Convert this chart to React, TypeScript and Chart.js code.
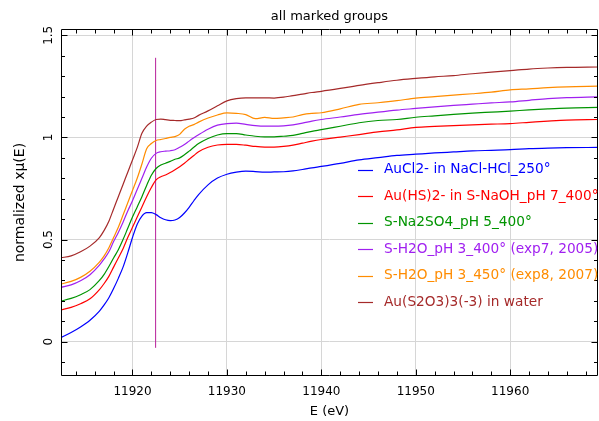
import { useEffect, useRef } from 'react';
import { Chart, registerables } from 'chart.js';

Chart.register(...registerables);

const FONT = 'DejaVu Sans';

const chartTitle = 'all marked groups';

const energy = [
  11912.4, 11913.5, 11914.5, 11915.5, 11916.5, 11917, 11917.5, 11918, 11918.5, 11919,
  11919.5, 11920, 11920.5, 11921, 11921.5, 11922, 11922.5, 11923, 11923.5, 11924,
  11924.5, 11925, 11925.5, 11926, 11926.5, 11927, 11928, 11929, 11930, 11931,
  11932, 11933, 11934, 11935, 11936, 11937, 11938, 11939, 11940, 11942,
  11944, 11946, 11948, 11950, 11952, 11954, 11956, 11958, 11960, 11962,
  11964, 11966, 11969.3,
];

const auCl2 = [
  0.020, 0.045, 0.072, 0.105, 0.150, 0.180, 0.215, 0.260, 0.310, 0.365,
  0.435, 0.510, 0.575, 0.615, 0.632, 0.632, 0.622, 0.607, 0.597, 0.593,
  0.596, 0.608, 0.630, 0.658, 0.690, 0.720, 0.768, 0.801, 0.820, 0.830,
  0.835, 0.833, 0.830, 0.831, 0.832, 0.836, 0.843, 0.851, 0.858, 0.873,
  0.890, 0.901, 0.912, 0.918, 0.924, 0.929, 0.934, 0.937, 0.940, 0.945,
  0.948, 0.950, 0.951,
];

const auHS2 = [
  0.155, 0.168, 0.186, 0.210, 0.255, 0.285, 0.320, 0.365, 0.410, 0.455,
  0.510, 0.560, 0.610, 0.660, 0.710, 0.755, 0.792, 0.808, 0.816, 0.828,
  0.842, 0.857, 0.874, 0.893, 0.912, 0.930, 0.952, 0.963, 0.966, 0.966,
  0.962, 0.956, 0.953, 0.953, 0.956, 0.962, 0.972, 0.982, 0.990, 1.002,
  1.014, 1.027, 1.037, 1.049, 1.054, 1.058, 1.062, 1.065, 1.068, 1.074,
  1.080, 1.085, 1.088,
];

const na2so4 = [
  0.199, 0.212, 0.230, 0.255, 0.300, 0.330, 0.368, 0.410, 0.450, 0.500,
  0.555, 0.610, 0.660, 0.710, 0.765, 0.815, 0.848, 0.865, 0.874, 0.883,
  0.893, 0.900, 0.915, 0.933, 0.952, 0.970, 0.995, 1.012, 1.019, 1.019,
  1.012, 1.006, 1.003, 1.003, 1.006, 1.010, 1.020, 1.030, 1.038, 1.055,
  1.072, 1.083, 1.088, 1.099, 1.106, 1.113, 1.119, 1.124, 1.129, 1.135,
  1.140, 1.144, 1.147,
];

const h2o400 = [
  0.266, 0.278, 0.298, 0.328, 0.375, 0.405, 0.440, 0.490, 0.535, 0.585,
  0.640, 0.690, 0.745, 0.800, 0.855, 0.898, 0.922, 0.930, 0.933, 0.935,
  0.940, 0.952, 0.965, 0.982, 0.998, 1.013, 1.040, 1.060, 1.068, 1.070,
  1.064, 1.058, 1.055, 1.055, 1.057, 1.062, 1.070, 1.080, 1.088, 1.100,
  1.113, 1.124, 1.134, 1.142, 1.150, 1.157, 1.163, 1.169, 1.174, 1.182,
  1.190, 1.195, 1.199,
];

const h2o450 = [
  0.282, 0.295, 0.315, 0.345, 0.390, 0.420, 0.460, 0.510, 0.560, 0.620,
  0.680, 0.740, 0.800, 0.870, 0.945, 0.970, 0.985, 0.990, 0.995, 1.000,
  1.004, 1.015, 1.040, 1.055, 1.063, 1.075, 1.095, 1.110, 1.120, 1.118,
  1.112, 1.092, 1.098, 1.093, 1.096, 1.100, 1.112, 1.118, 1.121, 1.140,
  1.162, 1.170, 1.180, 1.193, 1.200, 1.207, 1.214, 1.222, 1.233, 1.238,
  1.244, 1.248, 1.251,
];

const thiosulfate = [
  0.411, 0.420, 0.440, 0.468, 0.510, 0.545, 0.590, 0.650, 0.710, 0.770,
  0.830, 0.890, 0.950, 1.020, 1.055, 1.075, 1.088, 1.090, 1.087, 1.084,
  1.083, 1.082, 1.086, 1.090, 1.095, 1.108, 1.130, 1.155, 1.179, 1.190,
  1.194, 1.194, 1.194, 1.193, 1.197, 1.205, 1.212, 1.220, 1.226, 1.240,
  1.255, 1.268, 1.280, 1.289, 1.297, 1.303, 1.312, 1.320, 1.327, 1.335,
  1.340, 1.343, 1.345,
];

const seriesValues = [auCl2, auHS2, na2so4, h2o400, h2o450, thiosulfate];
const seriesLabels = [
  'AuCl2- in NaCl-HCl_250°',
  'Au(HS)2- in S-NaOH_pH 7_400°',
  'S-Na2SO4_pH 5_400°',
  'S-H2O_pH 3_400° (exp7, 2005)',
  'S-H2O_pH 3_450° (exp8, 2007)',
  'Au(S2O3)3(-3) in water',
];
const seriesColors = ['#0000ff', '#ff0000', '#009400', '#a020f0', '#ff8c00', '#a52a2a'];

const e0Energy = [11922.45, 11922.45];
const e0Span = [-0.03, 1.39];
const e0Color = '#b8209a';

const xTicks = [11920, 11930, 11940, 11950, 11960];
const yTicks = [0, 0.5, 1, 1.5];
const yTickLabels = ['0', '0.5', '1', '1.5'];
const xRange = [11912.43, 11969.3];
const yRange = [-0.168, 1.531];

const framePlugin = {
  id: 'frameTicks',
  afterDatasetsDraw(chart: any) {
    const { ctx, chartArea: a, scales } = chart;
    const xs = scales.x;
    const ys = scales.y;
    ctx.save();
    ctx.strokeStyle = '#000';
    ctx.lineWidth = 1;
    const L = Math.round(a.left) + 0.5;
    const R = Math.round(a.right) - 0.5;
    const T = Math.round(a.top) + 0.5;
    const B = Math.round(a.bottom) - 0.5;
    ctx.beginPath();
    ctx.rect(L, T, R - L, B - T);
    ctx.stroke();
    ctx.beginPath();
    for (let e = 11914; e <= 11968; e += 2) {
      const px = Math.round(xs.getPixelForValue(e)) + 0.5;
      const len = e % 10 === 0 ? 6 : 4;
      ctx.moveTo(px, B);
      ctx.lineTo(px, B - len);
      ctx.moveTo(px, T);
      ctx.lineTo(px, T + len);
    }
    for (let k = -1; k <= 15; k++) {
      const v = k / 10;
      const py = Math.round(ys.getPixelForValue(v)) + 0.5;
      const len = k % 5 === 0 ? 6 : 3.5;
      ctx.moveTo(L, py);
      ctx.lineTo(L + len, py);
      ctx.moveTo(R, py);
      ctx.lineTo(R - len, py);
    }
    ctx.stroke();
    ctx.restore();
  },
  afterDraw(chart: any) {
    const { ctx, chartArea: a } = chart;
    ctx.save();
    // title centred over the plot area
    ctx.font = `13px "${FONT}"`;
    ctx.fillStyle = '#000';
    ctx.textAlign = 'center';
    ctx.textBaseline = 'middle';
    ctx.fillText(chartTitle, (a.left + a.right) / 2, 17);
    // legend
    ctx.font = `13.7px "${FONT}"`;
    ctx.textBaseline = 'middle';
    ctx.textAlign = 'left';
    let row = 0;
    chart.data.datasets.forEach((ds: any) => {
      if (!ds.label) return;
      const y = 169.5 + row * 26.5;
      ctx.strokeStyle = ds.borderColor;
      ctx.lineWidth = 1.2;
      ctx.beginPath();
      ctx.moveTo(358, Math.round(y) + 0.5);
      ctx.lineTo(373, Math.round(y) + 0.5);
      ctx.stroke();
      ctx.fillStyle = ds.borderColor;
      ctx.fillText(ds.label, 384, y);
      row++;
    });
    ctx.restore();
  },
};

export default function App() {
  const ref = useRef<HTMLCanvasElement | null>(null);

  useEffect(() => {
    if (!ref.current) return;
    const datasets: any[] = seriesValues.map((vals, i) => ({
      label: seriesLabels[i],
      data: energy.map((e, j) => ({ x: e, y: vals[j] })),
      borderColor: seriesColors[i],
      backgroundColor: seriesColors[i],
      showLine: true,
      pointRadius: 0,
      borderWidth: 1.2,
      cubicInterpolationMode: 'monotone',
    }));
    datasets.push({
      label: '',
      data: e0Energy.map((e, j) => ({ x: e, y: e0Span[j] })),
      borderColor: e0Color,
      backgroundColor: e0Color,
      showLine: true,
      pointRadius: 0,
      borderWidth: 1,
    });

    const chart = new Chart(ref.current, {
      type: 'scatter',
      data: { datasets },
      plugins: [framePlugin],
      options: {
        animation: false,
        responsive: true,
        maintainAspectRatio: false,
        layout: { padding: { left: 0, right: 1, top: 29, bottom: 0 } },
        plugins: {
          legend: { display: false },
          tooltip: { enabled: false },
          title: { display: false },
        },
        scales: {
          x: {
            type: 'linear',
            min: xRange[0],
            max: xRange[1],
            afterBuildTicks: (s: any) => {
              s.ticks = xTicks.map((v) => ({ value: v }));
            },
            afterFit: (s: any) => {
              s.height = 45;
              s.paddingLeft = 0;
              s.paddingRight = 0;
            },
            grid: { color: '#d6d6d6', lineWidth: 1, drawTicks: false },
            border: { display: false },
            ticks: {
              color: '#000',
              font: { family: FONT, size: 12 },
              padding: 9,
              maxRotation: 0,
              minRotation: 0,
              callback: (v: any) => String(v),
            },
            title: {
              display: true,
              text: 'E (eV)',
              color: '#000',
              font: { family: FONT, size: 13 },
              padding: { top: 0, bottom: 2 },
            },
          },
          y: {
            type: 'linear',
            min: yRange[0],
            max: yRange[1],
            afterBuildTicks: (s: any) => {
              s.ticks = yTicks.map((v) => ({ value: v }));
            },
            afterFit: (s: any) => {
              s.width = 61;
              s.paddingTop = 0;
              s.paddingBottom = 0;
            },
            grid: { color: '#d6d6d6', lineWidth: 1, drawTicks: false },
            border: { display: false },
            ticks: {
              color: '#000',
              font: { family: FONT, size: 12 },
              padding: 3,
              minRotation: 90,
              maxRotation: 90,
              crossAlign: 'center',
              callback: (v: any) => {
                const i = yTicks.indexOf(Number(v));
                return i >= 0 ? yTickLabels[i] : '';
              },
            },
            title: {
              display: true,
              text: 'normalized xμ(E)',
              color: '#000',
              font: { family: FONT, size: 14 },
              padding: { top: 11.5, bottom: 0 },
            },
          },
        },
      } as any,
    });
    return () => chart.destroy();
  }, []);

  return (
    <div style={{ position: 'fixed', left: 0, top: 0, width: 599, height: 421, background: '#fff' }}>
      <canvas ref={ref} />
    </div>
  );
}
